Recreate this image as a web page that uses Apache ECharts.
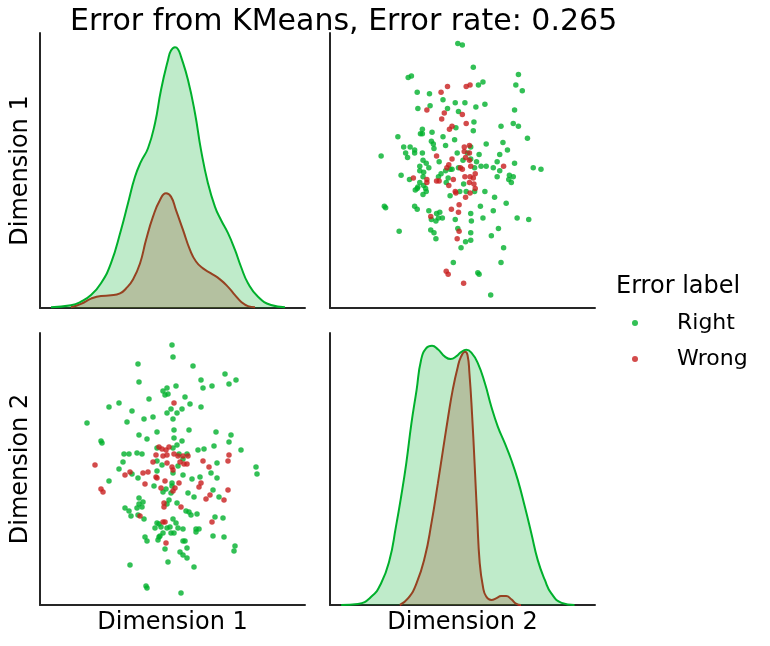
<!DOCTYPE html>
<html>
<head>
<meta charset="utf-8">
<script src="https://cdn.jsdelivr.net/npm/echarts@6/dist/echarts.min.js"></script>
<style>
html, body { margin: 0; padding: 0; background: #fff; }
#chart { width: 770px; height: 646px; }
</style>
</head>
<body>
<div id="chart"></div>
<script>
var titleText = "Error from KMeans, Error rate: 0.265";
var dimNames = ["Dimension 1", "Dimension 2"];
var labelNames = ["Right", "Wrong"];

// points as [dimension 1, dimension 2]
var rightPoints = [
	[0,125],[1,113],[-34,106],[-33,88],[-9,79],[-5,82],[-7,75],[-4,76],[-23,71],[4,84],
	[-63,63],[-53,67],[-40,59],[-1,61],[-5,57],[-85,47],[-45,48],[-28,51],[-19,53],[1,51],
	[-33,35],[-25,31],[-15,38],[2,40],[2,32],[-71,29],[-70,27],[1,22],[-15,22],[-48,16],
	[-43,16],[-35,17],[-30,16],[-49,8],[-15,9],[-10,5],[21,104],[53,96],[29,90],[64,90],
	[57,86],[31,82],[40,84],[13,73],[18,66],[10,61],[5,57],[29,63],[17,40],[44,38],
	[59,35],[57,28],[5,25],[10,29],[42,24],[26,20],[32,21],[69,20],[7,16],[15,16],
	[11,11],[45,7],[-53,1],[-40,-4],[-15,-1],[1,-3],[-63,-11],[-34,-8],[-18,-16],[-6,-19],
	[0,-13],[0,-16],[-9,-22],[-1,-23],[-33,-28],[-29,-32],[-33,-34],[-5,-34],[-3,-30],[-47,-38],
	[-43,-41],[-35,-38],[-30,-37],[-41,-46],[-34,-45],[-28,-49],[-15,-53],[-13,-54],[-17,-58],[-11,-57],
	[-5,-58],[-2,-57],[1,-49],[4,-53],[-9,-63],[-1,-63],[2,-63],[-13,-67],[-12,-66],[-27,-67],
	[-25,-71],[-14,-70],[-7,-79],[-4,-92],[-42,-95],[-26,-116],[-25,-118],[6,4],[39,-3],[45,-8],
	[28,-7],[11,-5],[20,-9],[84,3],[85,-4],[16,-23],[41,-20],[22,-27],[47,-27],[5,-33],
	[14,-41],[17,-42],[19,-45],[25,-44],[43,-47],[51,-48],[6,-58],[11,-59],[24,-59],[27,-59],
	[24,-62],[41,-66],[52,-67],[11,-71],[13,-71],[63,-76],[62,-81],[15,-78],[8,-82],[11,-85],
	[15,-88],[22,-97],[9,-123]
];
var wrongPoints = [
	[2,67],[-13,23],[-10,21],[-6,20],[-3,23],[-16,15],[-9,14],[-5,15],[2,16],[-19,8],
	[-5,7],[-77,5],[6,14],[11,14],[16,14],[57,15],[31,9],[56,9],[8,8],[12,6],
	[15,6],[-47,-5],[-42,-2],[-29,-3],[-24,-2],[0,3],[-16,-7],[-15,-8],[-27,-14],[-7,-11],
	[-11,-18],[3,-18],[-71,-19],[-69,-22],[-8,-33],[-8,-37],[-32,-46],[-9,-52],[-7,-52],[-6,-73],
	[1,0],[37,3],[7,-13],[29,-13],[27,-17],[1,-21],[56,-20],[38,-25],[34,-29],[52,-30],
	[9,-37],[40,-52]
];

// density curves on the diagonal
var kdeDim1X_right = [-121,-101,-91,-81,-71,-61,-51,-44,-37,-31,-24,-17,-11,-4,-1,3,6,9,16,23,29,36,43,49,56,63,69,76,86,99,113];
var kdeDim1Y_right = [0.003,0.010,0.023,0.047,0.090,0.163,0.284,0.381,0.477,0.532,0.581,0.672,0.793,0.902,0.936,0.948,0.941,0.914,0.829,0.708,0.575,0.453,0.368,0.320,0.272,0.211,0.150,0.090,0.041,0.011,0.003];
var kdeDim1X_wrong = [-101,-91,-81,-71,-61,-52,-46,-39,-32,-26,-19,-12,-6,-1,4,11,18,24,31,39,48,56,63,69,76,83];
var kdeDim1Y_wrong = [0.003,0.015,0.034,0.044,0.046,0.053,0.071,0.104,0.162,0.247,0.332,0.393,0.417,0.405,0.356,0.284,0.211,0.169,0.144,0.126,0.104,0.077,0.047,0.023,0.007,0.003];
var kdeDim2X_right = [-185,-159,-138,-123,-110,-100,-92,-84,-76,-68,-61,-53,-44,-35,-24,-15,-6,1,9,17,27,38,48,58,69,79,89,100,110,120,131,141,157,177];
var kdeDim2Y_right = [0.0,0.004,0.031,0.080,0.165,0.288,0.398,0.521,0.668,0.790,0.901,0.944,0.953,0.940,0.913,0.904,0.915,0.930,0.938,0.928,0.889,0.815,0.729,0.656,0.594,0.533,0.460,0.361,0.264,0.165,0.092,0.043,0.008,0.0];
var kdeDim2X_wrong = [-94,-81,-68,-55,-45,-35,-27,-19,-12,-4,1,7,11,14,18,22,26,30,35,40,48,56,63,71,79,87,94];
var kdeDim2Y_wrong = [0.0,0.025,0.080,0.178,0.300,0.447,0.570,0.692,0.790,0.876,0.913,0.931,0.919,0.852,0.705,0.521,0.325,0.153,0.067,0.031,0.018,0.025,0.033,0.033,0.021,0.004,0.0];

var colRight = "#00b02c";
var colWrong = "#c81e1e";
var spineColor = "#262626";
var fontFamily = "DejaVu Sans";

function zip(xs, ys) {
	return xs.map(function(x, i) { return [x, ys[i]]; });
}

function swap(points) {
	return points.map(function(p) { return [p[1], p[0]]; });
}

function axis(gridIndex, min, max, name, nameGap) {
	return {
		type : "value",
		gridIndex : gridIndex,
		min : min,
		max : max,
		name : name || "",
		nameLocation : "middle",
		nameGap : nameGap || 0,
		nameTextStyle : { fontSize : 24, color : "#000", fontFamily : fontFamily, lineHeight : 24 },
		axisLine : { show : true, onZero : false, lineStyle : { color : spineColor, width : 2 } },
		axisTick : { show : false },
		axisLabel : { show : false },
		splitLine : { show : false }
	};
}

function scatter(name, points, xi, color, z) {
	return {
		name : name,
		type : "scatter",
		xAxisIndex : xi,
		yAxisIndex : xi,
		data : points,
		symbolSize : 5.5,
		z : z,
		itemStyle : { color : color, opacity : 0.8 },
		silent : true
	};
}

// the wrong curve sits under the right one, so its line shows through the green fill
function kde(name, data, xi, color, z) {
	return {
		name : name,
		type : "line",
		xAxisIndex : xi,
		yAxisIndex : xi,
		data : data,
		z : z,
		showSymbol : false,
		symbol : "none",
		smooth : 0.5,
		lineStyle : { color : color, width : 2 },
		itemStyle : { color : color },
		areaStyle : { color : color, opacity : 0.25 },
		silent : true
	};
}

var chart = echarts.init(document.getElementById("chart"), null, { renderer : "canvas" });

var option = {
	animation : false,
	backgroundColor : "#fff",
	title : [{
		text : titleText,
		left : 70,
		top : 7,
		padding : 0,
		textStyle : { fontSize : 30, fontWeight : "normal", color : "#000", fontFamily : fontFamily, lineHeight : 30 }
	}, {
		text : "Error label",
		left : 616,
		top : 275,
		padding : 0,
		textStyle : { fontSize : 24, fontWeight : "normal", color : "#000", fontFamily : fontFamily, lineHeight : 24 }
	}],
	legend : {
		data : labelNames,
		orient : "vertical",
		left : 632,
		top : 312,
		padding : 0,
		icon : "circle",
		itemWidth : 6,
		itemHeight : 6,
		itemGap : 14,
		textStyle : { fontSize : 22, color : "#000", fontFamily : fontFamily, lineHeight : 22, padding : [0, 0, 0, 34] }
	},
	grid : [
		{ left : 40, top : 33, width : 265, height : 275 },
		{ left : 330, top : 33, width : 265, height : 275 },
		{ left : 40, top : 333, width : 265, height : 272 },
		{ left : 330, top : 333, width : 265, height : 272 }
	],
	xAxis : [
		axis(0, -132, 133),
		axis(1, -202.3, 208.8),
		axis(2, -132, 133, dimNames[0], 6),
		axis(3, -202.3, 208.8, dimNames[1], 6)
	],
	yAxis : [
		axis(0, 0, 1, dimNames[0], 7),
		axis(1, -93.8, 92.1),
		axis(2, -135, 137, dimNames[1], 7),
		axis(3, 0, 1)
	],
	series : [
		scatter("Right", swap(rightPoints), 1, colRight, 2),
		scatter("Wrong", swap(wrongPoints), 1, colWrong, 3),
		scatter("Right", rightPoints, 2, colRight, 2),
		scatter("Wrong", wrongPoints, 2, colWrong, 3),
		kde("Wrong", zip(kdeDim1X_wrong, kdeDim1Y_wrong), 0, colWrong, 1),
		kde("Right", zip(kdeDim1X_right, kdeDim1Y_right), 0, colRight, 2),
		kde("Wrong", zip(kdeDim2X_wrong, kdeDim2Y_wrong), 3, colWrong, 1),
		kde("Right", zip(kdeDim2X_right, kdeDim2Y_right), 3, colRight, 2)
	]
};

chart.setOption(option);
</script>
</body>
</html>
